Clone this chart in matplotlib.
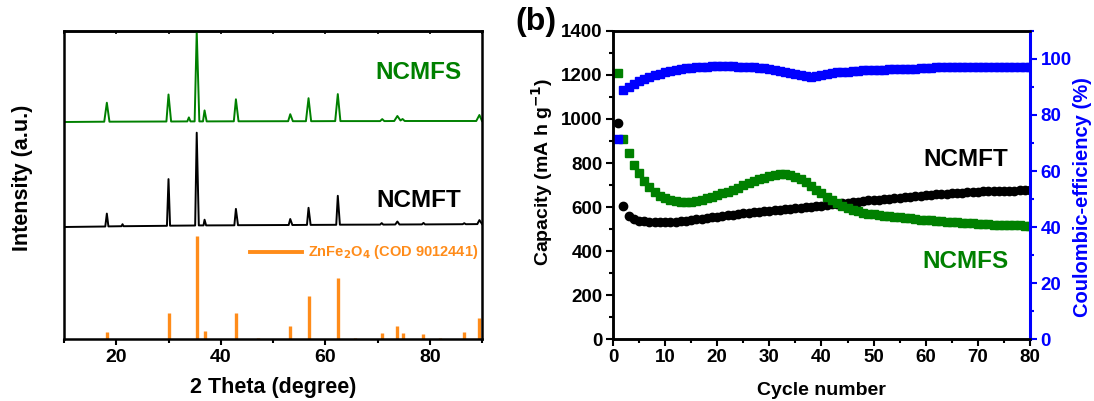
import matplotlib
matplotlib.use("Agg")
import matplotlib.pyplot as plt
from matplotlib.ticker import MultipleLocator

plt.rcParams['font.family'] = ['Liberation Sans', 'DejaVu Sans']
plt.rcParams['font.weight'] = 'bold'

# ---- (a) XRD patterns, intensity in arbitrary units ----
ref_theta = [18.2, 30.0, 35.4, 36.9, 42.9, 47.2, 53.3, 56.8, 62.4, 65.6,
             70.8, 73.8, 74.8, 78.8, 82.0, 86.6, 89.5]
ref_int = [6.7, 25.7, 103, 8.3, 25.7, 1, 13.3, 43, 61.3, 1,
           6.3, 13.3, 6.3, 5, 1, 6.7, 20.7]

ncmft_theta = [10, 17.9, 18.2, 18.5, 21.0, 21.2, 21.4, 29.7, 30.0, 30.3,
               35.1, 35.4, 35.8, 36.7, 36.9, 37.2, 42.6, 42.9, 43.3,
               53.0, 53.3, 53.7, 56.5, 56.8, 57.2, 62.1, 62.4, 62.8,
               70.5, 70.8, 71.1, 73.4, 73.8, 74.2, 78.5, 78.8, 79.1,
               86.3, 86.6, 86.9, 89.1, 89.5, 90]
ncmft_int = [112, 112.5, 125.4, 112.6, 112.8, 114.8, 112.8, 113.2, 159.9, 113.3,
             113.5, 206.3, 113.6, 113.6, 119.3, 113.6, 113.7, 130.1, 113.8,
             114.0, 120.0, 114.0, 114.1, 131.2, 114.1, 114.2, 143.2, 114.3,
             114.4, 115.9, 114.4, 114.5, 117.5, 114.5, 114.6, 116.1, 114.6,
             114.8, 115.8, 114.8, 114.9, 118.9, 115]

ncmfs_theta = [10, 17.7, 18.2, 18.7, 29.6, 30.0, 30.5, 33.6, 33.9, 34.2,
               35.0, 35.4, 35.9, 36.6, 36.9, 37.3, 42.5, 42.9, 43.4,
               52.9, 53.3, 53.8, 56.3, 56.8, 57.3, 61.9, 62.4, 62.9,
               70.5, 70.9, 71.3, 73.2, 73.8, 74.4, 74.8, 75.2,
               88.9, 89.5, 90]
ncmfs_int = [217, 217.3, 236.3, 217.3, 217.5, 244.5, 217.5, 217.6, 221.6, 217.6,
             217.6, 308, 217.6, 217.6, 228.6, 217.6, 217.7, 239.7, 217.7,
             217.8, 224.8, 217.8, 217.8, 240.8, 217.8, 217.9, 244.9, 217.9,
             217.9, 219.9, 217.9, 218.0, 223.0, 218.5, 220.0, 218.0,
             218.0, 224.0, 218]

# ---- (b) cycling data ----
cycles = list(range(1, 81))
cap_ncmft = [980, 606, 559, 544, 538, 535, 533, 532, 532, 532,
             533, 534, 536, 538, 541, 544, 547, 550, 553, 556,
             559, 562, 565, 568, 571, 573, 576, 578, 581, 583,
             585, 588, 590, 592, 594, 596, 599, 601, 604, 606,
             609, 612, 614, 617, 620, 622, 625, 627, 630, 632,
             634, 636, 638, 640, 642, 644, 646, 649, 651, 653,
             655, 657, 659, 660, 662, 664, 665, 667, 668, 670,
             671, 672, 673, 673, 674, 675, 675, 676, 676, 677]
cap_ncmfs = [1210, 907, 844, 792, 753, 720, 692, 670, 652, 639,
             632, 626, 623, 621, 622, 627, 632, 639, 647, 655,
             662, 670, 679, 688, 698, 708, 717, 726, 734, 741,
             746, 749, 749, 744, 736, 726, 712, 695, 678, 662,
             647, 632, 618, 605, 595, 586, 580, 574, 570, 567,
             564, 561, 558, 556, 553, 551, 548, 546, 543, 541,
             539, 537, 535, 534, 532, 530, 529, 527, 526, 524,
             523, 522, 520, 519, 518, 517, 516, 516, 515, 515]
ce = [71.3, 88.9, 90.1, 91.1, 92.1, 93.0, 93.6, 94.2, 94.7, 95.2,
      95.6, 96.1, 96.4, 96.7, 96.9, 97.1, 97.2, 97.3, 97.4, 97.4,
      97.4, 97.4, 97.4, 97.3, 97.3, 97.2, 97.1, 96.9, 96.7, 96.4,
      96.1, 95.8, 95.5, 95.0, 94.6, 94.2, 93.9, 93.7, 93.8, 94.2,
      94.6, 94.9, 95.2, 95.4, 95.5, 95.7, 95.8, 95.9, 96.0, 96.1,
      96.2, 96.2, 96.3, 96.3, 96.4, 96.5, 96.5, 96.6, 96.7, 96.8,
      96.9, 97.0, 97.0, 97.0, 97.0, 97.0, 97.1, 97.1, 97.1, 97.1,
      97.1, 97.2, 97.2, 97.2, 97.2, 97.2, 97.2, 97.2, 97.2, 97.2]

GREEN = '#008000'
ORANGE = '#ff8c1a'
BLUE = '#0000ff'

fig = plt.figure(figsize=(10.94, 4.01), dpi=100)

# ---------- panel (a) ----------
ax = fig.add_axes([0.0585, 0.1546, 0.3821, 0.7681])
ax.vlines(ref_theta, 0, ref_int, color=ORANGE, lw=2.4)
ax.plot(ncmft_theta, ncmft_int, color='black', lw=1.4)
ax.plot(ncmfs_theta, ncmfs_int, color=GREEN, lw=1.4)
ax.plot([0.445, 0.569], [0.283, 0.283], color=ORANGE, lw=2.8, transform=ax.transAxes)
ax.text(0.584, 0.283, 'ZnFe$_\\mathbf{2}$O$_\\mathbf{4}$ (COD 9012441)', color=ORANGE,
        fontsize=10.5, fontweight='bold', ha='left', va='center', transform=ax.transAxes)
ax.set_xlim(10, 90)
ax.set_ylim(0, 308)
ax.set_yticks([])
ax.xaxis.set_major_locator(MultipleLocator(20))
ax.xaxis.set_minor_locator(MultipleLocator(10))
ax.tick_params(axis='x', which='major', direction='out', length=4, width=1.5,
               labelsize=14, pad=3)
ax.tick_params(axis='x', which='minor', direction='out', length=3, width=1.5)
# short inward ticks on the top frame
top = ax.secondary_xaxis('top')
top.xaxis.set_major_locator(MultipleLocator(10))
top.tick_params(direction='in', length=2.5, width=1.2, labeltop=False)
top.spines['top'].set_linewidth(1.8)
for s in ax.spines.values():
    s.set_linewidth(1.8)
ax.text(0.5, -0.159, '2 Theta (degree)', transform=ax.transAxes, ha='center', va='center',
        fontsize=15.5, fontweight='bold')
ax.text(-0.100, 0.524, 'Intensity (a.u.)', transform=ax.transAxes, ha='center', va='center',
        rotation=90, fontsize=15.5, fontweight='bold')
ax.text(0.849, 0.864, 'NCMFS', transform=ax.transAxes, ha='center', va='center',
        color=GREEN, fontsize=17.5, fontweight='bold')
ax.text(0.849, 0.451, 'NCMFT', transform=ax.transAxes, ha='center', va='center',
        color='black', fontsize=17.5, fontweight='bold')

# ---------- panel (b) ----------
bx = fig.add_axes([0.5603, 0.1546, 0.3812, 0.7681])
bx.plot(cycles, cap_ncmft, 'o', color='black', ms=6, mec='black')
bx.plot(cycles, cap_ncmfs, 's', color=GREEN, ms=5.4, mec=GREEN)
bx.set_xlim(0, 80)
bx.set_ylim(0, 1400)
bx.xaxis.set_major_locator(MultipleLocator(10))
bx.xaxis.set_minor_locator(MultipleLocator(5))
bx.yaxis.set_major_locator(MultipleLocator(200))
bx.yaxis.set_minor_locator(MultipleLocator(100))
bx.tick_params(which='major', direction='out', length=5, width=1.5, labelsize=13.5, pad=2.5)
bx.tick_params(which='minor', direction='out', length=3, width=1.5)
for s in bx.spines.values():
    s.set_linewidth(1.8)

cx = bx.twinx()
cx.plot(cycles, ce, 's', color=BLUE, ms=5.4, mec=BLUE)
cx.set_ylim(0, 110)
cx.yaxis.set_major_locator(MultipleLocator(20))
cx.yaxis.set_minor_locator(MultipleLocator(10))
cx.tick_params(axis='y', which='major', direction='out', length=5, width=1.5,
               labelsize=13.5, pad=2.5, colors=BLUE)
cx.tick_params(axis='y', which='minor', direction='out', length=3, width=1.5, colors=BLUE)
for name, s in cx.spines.items():
    s.set_linewidth(1.8)
cx.spines['right'].set_color(BLUE)
cx.spines['right'].set_linewidth(2.2)

bx.text(0.5, -0.166, 'Cycle number', transform=bx.transAxes, ha='center', va='center',
        fontsize=14, fontweight='bold')
bx.text(-0.169, 0.542, 'Capacity (mA h g$^{\\mathbf{-1}}$)', transform=bx.transAxes,
        ha='center', va='center', rotation=90, fontsize=14, fontweight='bold')
bx.text(1.127, 0.461, 'Coulombic-efficiency (%)', transform=bx.transAxes, ha='center',
        va='center', rotation=90, fontsize=14.5, fontweight='bold', color=BLUE)
bx.text(0.845, 0.584, 'NCMFT', transform=bx.transAxes, ha='center', va='center',
        color='black', fontsize=17.5, fontweight='bold')
bx.text(0.845, 0.253, 'NCMFS', transform=bx.transAxes, ha='center', va='center',
        color=GREEN, fontsize=17.5, fontweight='bold')
fig.text(0.490, 0.945, '(b)', ha='center', va='center', fontsize=23, fontweight='bold')

fig.savefig('out.png', dpi=100)
